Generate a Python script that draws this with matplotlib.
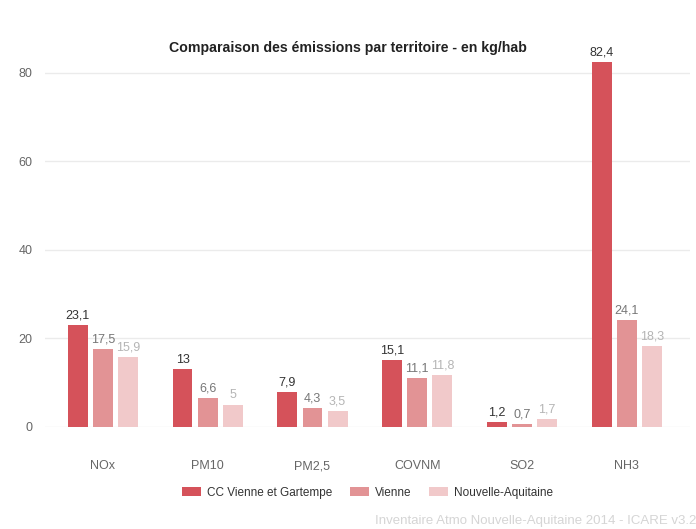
import matplotlib.pyplot as plt
import numpy as np

plt.rcParams['font.family'] = ['Liberation Sans', 'DejaVu Sans']

categories = ['NOx', 'PM10', 'PM2,5', 'COVNM', 'SO2', 'NH3']
series_names = ['CC Vienne et Gartempe', 'Vienne', 'Nouvelle-Aquitaine']
cc_vienne = [23.1, 13, 7.9, 15.1, 1.2, 82.4]
vienne = [17.5, 6.6, 4.3, 11.1, 0.7, 24.1]
nouvelle_aquitaine = [15.9, 5, 3.5, 11.8, 1.7, 18.3]
y_ticks = [0, 20, 40, 60, 80]

colors = ['#d5525a', '#e29395', '#f1c9ca']
label_colors = ['#333333', '#777777', '#b5b5b5']

fig = plt.figure(figsize=(6.96, 5.29), dpi=100)
ax = fig.add_axes([0.065, 0.193, 0.926, 0.736])

x = np.arange(len(categories))
width = 0.19
offsets = [-0.24, 0, 0.24]

for vals, off, col, lcol, name in zip([cc_vienne, vienne, nouvelle_aquitaine],
                                       offsets, colors, label_colors, series_names):
    ax.bar(x + off, vals, width, color=col, label=name, zorder=3)
    for xi, v in zip(x + off, vals):
        txt = f"{v:g}".replace('.', ',')
        ax.text(xi, v + 0.8, txt, ha='center', va='bottom', fontsize=9, color=lcol)

ax.set_xlim(-0.55, 5.6)
ax.set_ylim(0, 88)
ax.set_yticks(y_ticks)
ax.set_xticks(x)
ax.set_xticklabels(categories)
ax.tick_params(axis='both', length=0, labelsize=9, labelcolor='#666666')
ax.tick_params(axis='x', pad=24)
ax.tick_params(axis='y', pad=9)
ax.grid(axis='y', color='#ebebeb', linewidth=1, zorder=0)
for s in ax.spines.values():
    s.set_visible(False)

fig.text(0.5, 0.91, 'Comparaison des émissions par territoire - en kg/hab',
         ha='center', va='center', fontsize=10.2, fontweight='bold', color='#222222')

fig.legend(loc='center', bbox_to_anchor=(0.528, 0.068), ncol=3, frameon=False,
           fontsize=8.5, handlelength=1.6, handleheight=0.8, columnspacing=1.5,
           handletextpad=0.5, labelcolor='#333333')

fig.text(1.0, 0.016, 'Inventaire Atmo Nouvelle-Aquitaine 2014 - ICARE v3.2',
         ha='right', va='center', fontsize=9.5, color='#d5d5d5')

fig.savefig('out.png', dpi=100)
